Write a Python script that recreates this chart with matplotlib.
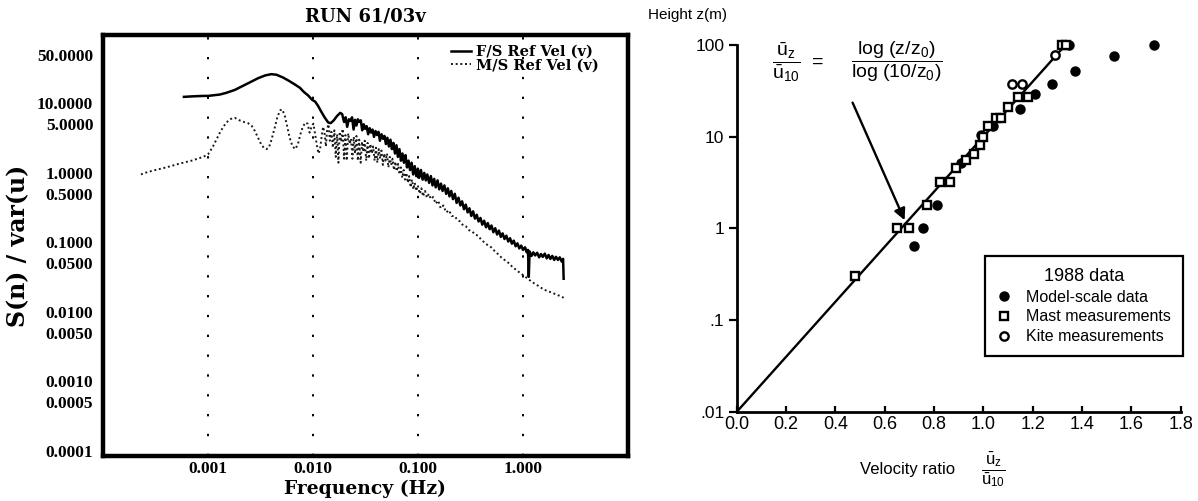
import matplotlib
matplotlib.use('Agg')
import matplotlib.pyplot as plt

# spectrum, full-scale reference velocity
fs_freq = [0.00059, 0.0007, 0.0008, 0.0009, 0.001, 0.0011, 0.0013, 0.0015, 0.0018, 0.0021,
           0.0025, 0.003, 0.0035, 0.004, 0.0045, 0.0052, 0.006, 0.0068, 0.0075, 0.0082,
           0.009, 0.0098, 0.0105, 0.0112, 0.012, 0.013, 0.014, 0.0148, 0.0158, 0.017,
           0.0182, 0.019, 0.0198, 0.0205, 0.0212, 0.022, 0.0228, 0.0236, 0.0244, 0.0252,
           0.026, 0.0268, 0.0277, 0.0286, 0.0295, 0.0305, 0.0315, 0.0325, 0.0336, 0.0347,
           0.0358, 0.037, 0.0382, 0.0395, 0.0408, 0.0421, 0.0435, 0.045, 0.0465, 0.048,
           0.0496, 0.0512, 0.053, 0.0548, 0.0566, 0.0585, 0.0605, 0.0625, 0.0645, 0.0667,
           0.069, 0.0713, 0.0737, 0.0762, 0.0788, 0.0815, 0.0843, 0.0872, 0.0902, 0.0933,
           0.0965, 0.1, 0.103, 0.107, 0.111, 0.115, 0.119, 0.123, 0.128, 0.133,
           0.138, 0.143, 0.148, 0.154, 0.16, 0.166, 0.172, 0.179, 0.186, 0.193,
           0.2, 0.208, 0.216, 0.225, 0.234, 0.244, 0.254, 0.264, 0.275, 0.286,
           0.298, 0.31, 0.323, 0.336, 0.35, 0.364, 0.379, 0.395, 0.411, 0.428,
           0.446, 0.464, 0.483, 0.503, 0.524, 0.546, 0.569, 0.592, 0.617, 0.642,
           0.669, 0.697, 0.726, 0.756, 0.787, 0.82, 0.854, 0.889, 0.926, 0.965,
           1.005, 1.05, 1.09, 1.12, 1.14, 1.16, 1.21, 1.26, 1.31, 1.37,
           1.43, 1.49, 1.55, 1.62, 1.69, 1.76, 1.83, 1.91, 1.99, 2.07,
           2.16, 2.25, 2.35, 2.42, 2.45]
fs_val = [12.4, 12.6, 12.7, 12.8, 12.8, 13.0, 13.4, 14.2, 15.6, 17.5,
          20.0, 23.0, 25.2, 26.3, 25.8, 23.5, 20.8, 18.5, 16.8, 14.6,
          13.0, 11.3, 10.6, 9.2, 7.6, 6.2, 5.3, 5.2, 5.7, 6.6,
          7.3, 7.0, 5.4, 6.3, 4.6, 5.9, 5.6, 6.3, 4.2, 5.8,
          4.8, 5.9, 5.4, 5.7, 4.1, 5.0, 4.3, 4.7, 3.6, 4.4,
          3.8, 4.2, 3.3, 4.0, 3.5, 3.9, 2.9, 3.6, 3.1, 3.4,
          2.6, 3.2, 2.4, 3.0, 2.2, 2.7, 1.9, 2.5, 1.7, 2.2,
          1.5, 1.9, 1.4, 1.8, 1.2, 1.5, 1.1, 1.4, 0.95, 1.25,
          0.9, 1.15, 0.85, 1.1, 0.8, 1.0, 0.78, 0.95, 0.72, 0.9,
          0.66, 0.82, 0.62, 0.78, 0.58, 0.7, 0.55, 0.66, 0.5, 0.6,
          0.46, 0.55, 0.42, 0.5, 0.37, 0.44, 0.34, 0.39, 0.3, 0.35,
          0.27, 0.31, 0.24, 0.28, 0.22, 0.25, 0.2, 0.225, 0.18, 0.205,
          0.165, 0.19, 0.155, 0.175, 0.14, 0.16, 0.13, 0.148, 0.12, 0.135,
          0.112, 0.125, 0.103, 0.115, 0.096, 0.106, 0.088, 0.097, 0.082, 0.09,
          0.078, 0.085, 0.072, 0.078, 0.032, 0.074, 0.064, 0.072, 0.065, 0.071,
          0.061, 0.068, 0.062, 0.069, 0.059, 0.066, 0.058, 0.064, 0.056, 0.062,
          0.056, 0.061, 0.053, 0.058, 0.03]

# spectrum, model-scale reference velocity
ms_freq = [0.00023, 0.00025, 0.0003, 0.0004, 0.0005, 0.0006, 0.0007, 0.0008, 0.0009, 0.001,
           0.0011, 0.0012, 0.0013, 0.0014, 0.0015, 0.0016, 0.0017, 0.0018, 0.002, 0.0022,
           0.0024, 0.0026, 0.0028, 0.003, 0.0032, 0.0034, 0.0036, 0.0038, 0.004, 0.0043,
           0.0046, 0.0049, 0.0051, 0.0054, 0.0057, 0.006, 0.0064, 0.0068, 0.0072, 0.0076,
           0.008, 0.0085, 0.0089, 0.0093, 0.0097, 0.0101, 0.0105, 0.0109, 0.0113, 0.0117,
           0.0121, 0.0125, 0.0129, 0.0133, 0.0137, 0.0141, 0.0145, 0.015, 0.0155, 0.016,
           0.0165, 0.017, 0.0175, 0.018, 0.0186, 0.0192, 0.0198, 0.0204, 0.021, 0.0217,
           0.0224, 0.0231, 0.0238, 0.0245, 0.0252, 0.026, 0.0268, 0.0276, 0.0285, 0.0294,
           0.0303, 0.0312, 0.0322, 0.0332, 0.0342, 0.0353, 0.0364, 0.0375, 0.0387, 0.0399,
           0.0411, 0.0424, 0.0437, 0.045, 0.0464, 0.0478, 0.0493, 0.0508, 0.0524, 0.054,
           0.0557, 0.0574, 0.0592, 0.061, 0.0629, 0.0648, 0.0668, 0.0689, 0.071, 0.0732,
           0.0755, 0.0778, 0.0802, 0.0827, 0.0853, 0.088, 0.0907, 0.0935, 0.0964, 0.1,
           0.104, 0.108, 0.112, 0.117, 0.122, 0.127, 0.133, 0.14, 0.148, 0.156,
           0.165, 0.175, 0.186, 0.198, 0.21, 0.224, 0.238, 0.253, 0.27, 0.288,
           0.307, 0.328, 0.35, 0.375, 0.4, 0.43, 0.46, 0.5, 0.54, 0.58,
           0.63, 0.68, 0.74, 0.8, 0.87, 0.95, 1.03, 1.12, 1.22, 1.33,
           1.45, 1.58, 1.72, 1.88, 2.05, 2.25, 2.45]
ms_val = [0.95, 1.0, 1.08, 1.2, 1.32, 1.42, 1.5, 1.6, 1.7, 1.85,
          2.3, 3.0, 3.8, 4.6, 5.3, 5.8, 6.1, 6.2, 5.7, 5.4,
          5.2, 4.8, 4.0, 3.2, 2.6, 2.3, 2.2, 2.3, 2.9, 4.3,
          6.5, 8.0, 8.2, 6.6, 4.6, 3.2, 2.4, 2.2, 2.6, 3.6,
          4.6, 5.3, 5.1, 3.8, 4.6, 5.1, 3.6, 2.5, 1.9, 2.2,
          3.3, 4.6, 3.8, 2.4, 4.4, 5.0, 2.9, 3.9, 2.3, 4.1,
          1.7, 3.6, 1.4, 3.9, 2.8, 4.3, 1.6, 3.5, 1.5, 3.7,
          2.6, 3.1, 1.6, 3.3, 1.9, 3.4, 1.5, 3.0, 1.4, 2.8,
          2.0, 2.9, 1.5, 2.7, 1.6, 2.6, 1.9, 2.4, 1.5, 2.3,
          1.4, 2.2, 1.6, 2.1, 1.3, 1.9, 1.5, 1.9, 1.2, 1.7,
          1.3, 1.6, 1.1, 1.45, 1.05, 1.35, 0.95, 1.2, 0.85, 1.1,
          0.8, 1.0, 0.72, 0.9, 0.62, 0.8, 0.58, 0.72, 0.55, 0.66,
          0.5, 0.6, 0.46, 0.55, 0.44, 0.5, 0.42, 0.45, 0.36, 0.4,
          0.31, 0.34, 0.27, 0.29, 0.24, 0.24, 0.21, 0.2, 0.175, 0.17,
          0.15, 0.145, 0.13, 0.125, 0.11, 0.1, 0.092, 0.085, 0.075, 0.068,
          0.06, 0.055, 0.05, 0.044, 0.04, 0.036, 0.033, 0.03, 0.027, 0.025,
          0.023, 0.021, 0.02, 0.019, 0.018, 0.017, 0.016]

spec_yticks = [50, 10, 5, 1, 0.5, 0.1, 0.05, 0.01, 0.005, 0.001, 0.0005, 0.0001]
spec_xticks = [0.001, 0.01, 0.1, 1.0]
spec_xlabels = ['0.001', '0.010', '0.100', '1.000']

# velocity profile: (velocity ratio, height in m)
model_u = [0.72, 0.755, 0.81, 0.91, 0.99, 1.04, 1.15, 1.21, 1.28, 1.37, 1.53, 1.69, 1.345]
model_z = [0.64, 1.0, 1.8, 5.2, 10.5, 13.0, 20.0, 29.0, 37.0, 52.0, 75.0, 100.0, 100.0]
mast_u = [0.48, 0.65, 0.70, 0.77, 0.825, 0.865, 0.89, 0.93, 0.96, 0.985,
          1.0, 1.02, 1.05, 1.07, 1.10, 1.14, 1.18, 1.32, 1.335]
mast_z = [0.3, 1.0, 1.0, 1.8, 3.2, 3.2, 4.5, 5.5, 6.5, 8.0,
          10.0, 13.0, 16.0, 16.0, 21.0, 27.0, 27.0, 100.0, 100.0]
kite_u = [1.115, 1.155, 1.29]
kite_z = [37.0, 37.0, 78.0]
# log law with z0 = 0.01 m: zero at z0, 1 at 10 m, 4/3 at 100 m
law_u = [0.0, 4 / 3]
law_z = [0.01, 100.0]

TICKSERIF = ['Liberation Serif', 'DejaVu Serif']
SERIF = ['DejaVu Serif']
SANS = ['Liberation Sans', 'DejaVu Sans']
plt.rcParams['mathtext.fontset'] = 'custom'
plt.rcParams['mathtext.rm'] = 'Liberation Sans'
plt.rcParams['mathtext.it'] = 'Liberation Sans'
plt.rcParams['mathtext.bf'] = 'Liberation Sans:bold'

fig = plt.figure(figsize=(11.98, 5.01), dpi=100)

# ---- left: spectra ----
ax1 = fig.add_axes([0.086, 0.09, 0.438, 0.84])
ax1.set_xscale('log')
ax1.set_yscale('log')
ax1.plot(fs_freq, fs_val, color='black', lw=1.8, label='F/S Ref Vel (v)')
ax1.plot(ms_freq, ms_val, color='#1a1a1a', lw=1.4, linestyle=(0, (1, 1.4)),
         label='M/S Ref Vel (v)')
ax1.set_xlim(1e-4, 10)
ax1.set_ylim(8.5e-5, 96)
ax1.set_yticks(spec_yticks)
ax1.set_yticklabels(['%.4f' % v for v in spec_yticks])
ax1.set_xticks(spec_xticks)
ax1.set_xticklabels(spec_xlabels)
ax1.minorticks_off()
ax1.tick_params(axis='y', length=0, pad=7)
ax1.tick_params(axis='x', length=0, pad=4)
for lab in ax1.get_xticklabels() + ax1.get_yticklabels():
    lab.set_family(TICKSERIF)
    lab.set_fontweight('bold')
    lab.set_fontsize(12.5)
ax1.grid(axis='x', color='black', linestyle=(0, (1.2, 9)), lw=1.4)
for s in ax1.spines.values():
    s.set_linewidth(3.2)
ax1.set_title('RUN 61/03v', family=SERIF, fontweight='bold', fontsize=13, pad=10)
ax1.set_xlabel('Frequency (Hz)', family=SERIF, fontweight='bold', fontsize=13.5, labelpad=2)
ax1.set_ylabel('S(n) / var(u)', family=SERIF, fontweight='bold', fontsize=17, labelpad=5)
ax1.legend(loc='upper right', bbox_to_anchor=(0.955, 0.99), frameon=False,
           prop={'family': SERIF, 'weight': 'bold', 'size': 10.5},
           handlelength=1.4, handletextpad=0.3, labelspacing=-0.05, borderaxespad=0)

# ---- right: velocity profile ----
ax2 = fig.add_axes([0.615, 0.178, 0.3706, 0.7325])
ax2.set_yscale('log')
ax2.plot(law_u, law_z, color='black', lw=1.7)
ax2.plot(model_u, model_z, 'o', color='black', ms=6.5, clip_on=False,
         label='Model-scale data')
ax2.plot(mast_u, mast_z, 's', mfc='white', mec='black', mew=1.7, ms=6, clip_on=False,
         label='Mast measurements')
ax2.plot(kite_u, kite_z, 'o', mfc='white', mec='black', mew=1.7, ms=6, clip_on=False,
         label='Kite measurements')
ax2.set_xlim(0, 1.8)
ax2.set_ylim(0.01, 100)
ax2.set_xticks([0.0, 0.2, 0.4, 0.6, 0.8, 1.0, 1.2, 1.4, 1.6, 1.8])
ax2.set_xticklabels(['%.1f' % v for v in ax2.get_xticks()])
ax2.set_yticks([100, 10, 1, 0.1, 0.01])
ax2.set_yticklabels(['100', '10', '1', '.1', '.01'])
ax2.minorticks_off()
ax2.tick_params(axis='x', direction='in', length=4, width=1.6, pad=3, labelsize=13)
ax2.tick_params(axis='y', direction='out', length=6, width=1.6, pad=3, labelsize=12.5)
for lab in ax2.get_xticklabels() + ax2.get_yticklabels():
    lab.set_family(SANS)
ax2.spines['top'].set_visible(False)
ax2.spines['right'].set_visible(False)
ax2.spines['left'].set_linewidth(2)
ax2.spines['bottom'].set_linewidth(2)

leg = ax2.legend(loc='upper right', bbox_to_anchor=(1.005, 0.425), title='1988 data',
                 prop={'family': SANS, 'size': 11.5}, fancybox=False, edgecolor='black',
                 framealpha=1, handlelength=0.8, handletextpad=1.0, labelspacing=0.3,
                 borderpad=0.75, borderaxespad=0)
leg.get_title().set_fontfamily(SANS)
leg.get_title().set_fontsize(13)
leg.get_frame().set_linewidth(1.6)
leg._legend_box.align = 'center'

ax2.text(0.112, 0.952, r'$\dfrac{\bar{\mathrm{u}}_\mathrm{z}}{\bar{\mathrm{u}}_{10}}$',
         transform=ax2.transAxes, ha='center', va='center', fontsize=14)
ax2.text(0.183, 0.952, '=', transform=ax2.transAxes, ha='center', va='center',
         family=SANS, fontsize=14)
ax2.text(0.36, 0.952, r'$\dfrac{\mathrm{log\ (z/z_0)}}{\mathrm{log\ (10/z_0)}}$',
         transform=ax2.transAxes, ha='center', va='center', fontsize=14)
ax2.annotate('', xy=(0.685, 1.15), xytext=(0.465, 25),
             arrowprops=dict(arrowstyle='-|>', lw=1.7, color='black', mutation_scale=17))

fig.text(0.541, 0.97, 'Height z(m)', family=SANS, fontsize=11, ha='left', va='center')
fig.text(0.797, 0.062, 'Velocity ratio', family=SANS, fontsize=12, ha='right', va='center')
fig.text(0.829, 0.062, r'$\dfrac{\bar{\mathrm{u}}_\mathrm{z}}{\bar{\mathrm{u}}_{10}}$',
         fontsize=12, ha='center', va='center')

fig.savefig('out.png', dpi=100)
